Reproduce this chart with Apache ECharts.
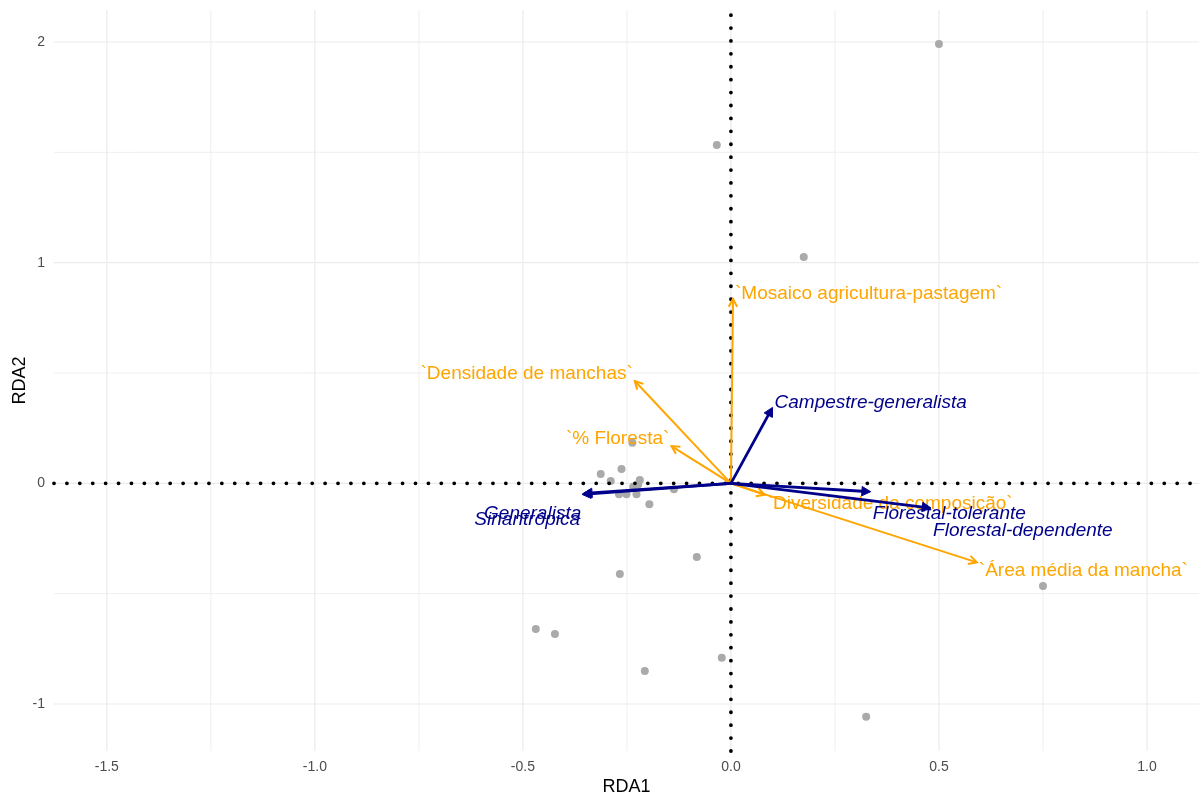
<!DOCTYPE html>
<html>
<head>
<meta charset="utf-8">
<script src="https://cdn.jsdelivr.net/npm/echarts@6/dist/echarts.min.js"></script>
<style>
  html, body { margin: 0; padding: 0; background: #ffffff; }
  #chart { width: 1199px; height: 796px; }
</style>
</head>
<body>
<div id="chart"></div>
<script>
// Site scores on the first two RDA axes
const siteRDA1 = [0.500, -0.034, 0.175, 0.750, 0.325, -0.082, -0.267, -0.469, -0.423, -0.207, -0.022,
                  -0.313, -0.263, -0.289, -0.219, -0.235, -0.223, -0.269, -0.251, -0.227, -0.196, -0.137, -0.237];
const siteRDA2 = [1.991, 1.533, 1.026, -0.465, -1.058, -0.334, -0.411, -0.660, -0.683, -0.851, -0.790,
                  0.042, 0.065, 0.010, 0.015, -0.015, -0.005, -0.050, -0.050, -0.050, -0.095, -0.027, 0.184];

// Landscape (explanatory) variables
const envNames = ['`Mosaico agricultura-pastagem`', '`Densidade de manchas`', '`% Floresta`',
                  '`Diversidade da composição`', '`Área média da mancha`'];
const envRDA1 = [0.005, -0.231, -0.143, 0.081, 0.591];
const envRDA2 = [0.836, 0.464, 0.169, -0.052, -0.358];

// Functional groups (response variables)
const grpNames = ['Campestre-generalista', 'Florestal-tolerante', 'Florestal-dependente', 'Generalista', 'Sinantrópica'];
const grpRDA1 = [0.100, 0.336, 0.481, -0.355, -0.358];
const grpRDA2 = [0.344, -0.038, -0.112, -0.046, -0.050];

// Axis breaks
const xMajor = [-1.5, -1.0, -0.5, 0.0, 0.5, 1.0];
const xMinor = [-1.25, -0.75, -0.25, 0.25, 0.75];
const yMajor = [-1, 0, 1, 2];
const yMinor = [-0.5, 0.5, 1.5];
const xTickLabels = ['-1.5', '-1.0', '-0.5', '0.0', '0.5', '1.0'];
const yTickLabels = ['-1', '0', '1', '2'];

// ---- styling ----
const FONT = '"Liberation Sans", Arial, Helvetica, sans-serif';
const ORANGE = '#FFA500';
const NAVY = '#00008B';
const envLabelDy = [-5, -7, -7, 9, 8];      // vertical label shift (px) from arrow tip
const grpLabelDy = [-5, 22, 23, 20, 25];

function tickText(list, labels, v) {
  for (let i = 0; i < list.length; i++) if (Math.abs(list[i] - v) < 1e-6) return labels[i];
  return '';
}

function gridSeries(values, vertical, width, color) {
  return {
    type: 'custom', z: 0, silent: true, clip: true,
    data: values.map(v => vertical ? [v, 0] : [0, v]),
    encode: { x: 0, y: 1 },
    renderItem: function (params, api) {
      const cs = params.coordSys;
      const p = api.coord([api.value(0), api.value(1)]);
      const shape = vertical
        ? { x1: p[0], y1: cs.y, x2: p[0], y2: cs.y + cs.height }
        : { x1: cs.x, y1: p[1], x2: cs.x + cs.width, y2: p[1] };
      return { type: 'line', shape: shape, style: { stroke: color, lineWidth: width } };
    }
  };
}

function arrowSeries(names, xs, ys, color, lineWidth, closedHead, italic, labelDy, z) {
  return {
    type: 'custom', z: z, silent: true, clip: false,
    data: xs.map((x, i) => [x, ys[i]]),
    encode: { x: 0, y: 1 },
    renderItem: function (params, api) {
      const i = params.dataIndex;
      const vx = api.value(0), vy = api.value(1);
      const p0 = api.coord([0, 0]);
      const p1 = api.coord([vx, vy]);
      const dx = p1[0] - p0[0], dy = p1[1] - p0[1];
      const len = Math.sqrt(dx * dx + dy * dy);
      const ux = dx / len, uy = dy / len;
      const headLen = closedHead ? 10 : 9;
      const ang = 28 * Math.PI / 180;
      const ca = Math.cos(ang), sa = Math.sin(ang);
      // two barbs of the head, rotated back from the tip
      const b1 = [p1[0] - headLen * (ux * ca - uy * sa), p1[1] - headLen * (uy * ca + ux * sa)];
      const b2 = [p1[0] - headLen * (ux * ca + uy * sa), p1[1] - headLen * (uy * ca - ux * sa)];
      const lineEnd = closedHead ? [p1[0] - ux * headLen * 0.8, p1[1] - uy * headLen * 0.8] : p1;
      const children = [
        { type: 'line', shape: { x1: p0[0], y1: p0[1], x2: lineEnd[0], y2: lineEnd[1] },
          style: { stroke: color, lineWidth: lineWidth, lineCap: 'butt' } }
      ];
      if (closedHead) {
        children.push({ type: 'polygon', shape: { points: [p1, b1, b2] },
          style: { fill: color, stroke: color, lineWidth: 1, lineJoin: 'miter' } });
      } else {
        children.push({ type: 'polyline', shape: { points: [b1, p1, b2] },
          style: { stroke: color, fill: null, lineWidth: lineWidth, lineJoin: 'miter' } });
      }
      const right = vx >= 0;
      children.push({
        type: 'text',
        style: {
          text: names[i],
          x: p1[0] + (right ? 2 : -2),
          y: p1[1] + labelDy[i],
          align: right ? 'left' : 'right',
          verticalAlign: 'middle',
          fill: color,
          font: (italic ? 'italic ' : '') + '19px ' + FONT
        }
      });
      return { type: 'group', children: children };
    }
  };
}

function dottedSeries(vertical) {
  return {
    type: 'custom', z: 2, silent: true, clip: false,
    data: [[0, 0]],
    encode: { x: 0, y: 1 },
    renderItem: function (params, api) {
      const cs = params.coordSys;
      const p = api.coord([0, 0]);
      const shape = vertical
        ? { x1: p[0], y1: cs.y + cs.height, x2: p[0], y2: cs.y }
        : { x1: cs.x, y1: p[1], x2: cs.x + cs.width, y2: p[1] };
      return { type: 'line', shape: shape,
        style: { stroke: '#000000', lineWidth: 3.8, lineCap: 'round', lineDash: [0.01, 12.9] } };
    }
  };
}

const chart = echarts.init(document.getElementById('chart'), null, { renderer: 'canvas' });

chart.setOption({
  animation: false,
  backgroundColor: '#ffffff',
  grid: { left: 54, right: 0, top: 10, bottom: 45, containLabel: false, outerBoundsMode: 'none' },
  xAxis: {
    type: 'value', min: -1.627, max: 1.125,
    name: 'RDA1', nameLocation: 'middle', nameGap: 27, nameMoveOverlap: false,
    nameTextStyle: { color: '#000000', fontSize: 18, fontFamily: FONT },
    axisLine: { show: false }, axisTick: { show: false }, splitLine: { show: false },
    axisLabel: {
      customValues: xMajor, margin: 9, color: '#4d4d4d', fontSize: 14, fontFamily: FONT,
      formatter: v => tickText(xMajor, xTickLabels, v)
    }
  },
  yAxis: {
    type: 'value', min: -1.213, max: 2.145,
    name: 'RDA2', nameLocation: 'middle', nameGap: 25, nameRotate: 90, nameMoveOverlap: false,
    nameTextStyle: { color: '#000000', fontSize: 18, fontFamily: FONT },
    axisLine: { show: false }, axisTick: { show: false }, splitLine: { show: false },
    axisLabel: {
      customValues: yMajor, margin: 9, color: '#4d4d4d', fontSize: 14, fontFamily: FONT,
      formatter: v => tickText(yMajor, yTickLabels, v)
    }
  },
  series: [
    gridSeries(xMinor, true, 1, '#efefef'),
    gridSeries(yMinor, false, 1, '#efefef'),
    gridSeries(xMajor, true, 1.2, '#ebebeb'),
    gridSeries(yMajor, false, 1.2, '#ebebeb'),
    {
      type: 'scatter', z: 1, silent: true,
      symbol: 'circle', symbolSize: 8,
      itemStyle: { color: '#aaaaaa', opacity: 1 },
      data: siteRDA1.map((x, i) => [x, siteRDA2[i]])
    },
    dottedSeries(true),
    dottedSeries(false),
    arrowSeries(envNames, envRDA1, envRDA2, ORANGE, 2, false, false, envLabelDy, 3),
    arrowSeries(grpNames, grpRDA1, grpRDA2, NAVY, 2.8, true, true, grpLabelDy, 4)
  ]
});
</script>
</body>
</html>
